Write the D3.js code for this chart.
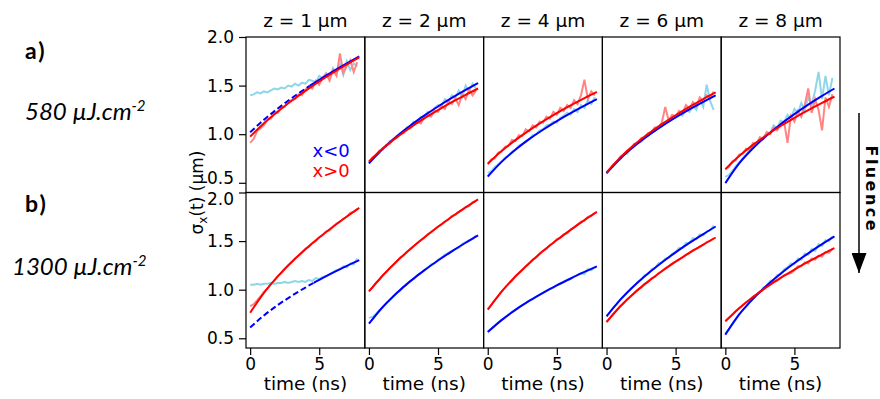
<!DOCTYPE html>
<html>
<head>
<meta charset="utf-8">
<script src="https://cdn.jsdelivr.net/npm/d3@7"></script>
<style>
    body { margin: 0; background: #fff; }
    svg text { font-family: "DejaVu Sans", sans-serif; }
</style>
</head>
<body>
<svg id="chart" width="880" height="399"></svg>
<script>
"use strict";

// time of the measured curves (ns)
const tData = [0, 0.25, 0.5, 0.75, 1, 1.25, 1.5, 1.75, 2, 2.25, 2.5, 2.75, 3, 3.25, 3.5, 3.75,
               4, 4.25, 4.5, 4.75, 5, 5.25, 5.5, 5.75, 6, 6.25, 6.5, 6.75, 7, 7.25, 7.5, 7.75];
// time of the fitted curves (ns)
const tFit = [0, 1, 2, 3, 4, 5, 6, 7, 7.9];

const zLabels = ["z = 1 µm", "z = 2 µm", "z = 4 µm", "z = 6 µm", "z = 8 µm"];
const yTicks = [0.5, 1.0, 1.5, 2.0];
const xTicks = [0, 5];

// 580 µJ.cm-2 : measured sigma, x<0 and x>0, one list per z
const data580Neg = [
    [1.40, 1.41, 1.43, 1.42, 1.44, 1.43, 1.45, 1.47, 1.46, 1.48, 1.47, 1.50, 1.49, 1.52, 1.50, 1.53, 1.52, 1.56, 1.55, 1.53, 1.60, 1.58, 1.63, 1.57, 1.68, 1.62, 1.72, 1.61, 1.75, 1.66, 1.73, 1.70],
    [0.70, 0.74, 0.78, 0.80, 0.86, 0.87, 0.93, 0.94, 0.98, 1.01, 1.03, 1.07, 1.08, 1.13, 1.12, 1.18, 1.17, 1.23, 1.21, 1.27, 1.30, 1.29, 1.36, 1.33, 1.40, 1.37, 1.45, 1.38, 1.50, 1.44, 1.52, 1.47],
    [0.60, 0.62, 0.66, 0.69, 0.72, 0.76, 0.78, 0.82, 0.84, 0.88, 0.90, 0.93, 0.95, 0.99, 1.00, 1.04, 1.05, 1.09, 1.10, 1.13, 1.12, 1.17, 1.19, 1.22, 1.20, 1.26, 1.23, 1.30, 1.27, 1.35, 1.31, 1.38],
    [0.59, 0.64, 0.67, 0.72, 0.74, 0.79, 0.80, 0.85, 0.87, 0.91, 0.92, 0.97, 0.98, 1.02, 1.03, 1.07, 1.08, 1.11, 1.13, 1.16, 1.17, 1.21, 1.19, 1.26, 1.23, 1.30, 1.25, 1.36, 1.28, 1.51, 1.34, 1.25],
    [0.56, 0.58, 0.62, 0.67, 0.71, 0.75, 0.79, 0.83, 0.87, 0.89, 0.94, 0.96, 1.02, 1.01, 1.09, 1.06, 1.14, 1.12, 1.20, 1.16, 1.26, 1.22, 1.32, 1.25, 1.38, 1.30, 1.45, 1.64, 1.36, 1.60, 1.40, 1.58]
];
const data580Pos = [
    [0.91, 0.95, 1.03, 1.06, 1.09, 1.15, 1.16, 1.21, 1.22, 1.27, 1.28, 1.33, 1.35, 1.36, 1.41, 1.40, 1.46, 1.49, 1.47, 1.55, 1.51, 1.58, 1.62, 1.55, 1.66, 1.60, 1.83, 1.63, 1.70, 1.76, 1.64, 1.74],
    [0.71, 0.76, 0.78, 0.83, 0.84, 0.89, 0.90, 0.95, 0.96, 1.00, 1.01, 1.05, 1.06, 1.10, 1.13, 1.11, 1.17, 1.20, 1.18, 1.24, 1.23, 1.29, 1.26, 1.34, 1.31, 1.37, 1.30, 1.41, 1.36, 1.46, 1.40, 1.45],
    [0.69, 0.74, 0.75, 0.81, 0.82, 0.87, 0.88, 0.94, 0.93, 0.99, 0.98, 1.05, 1.03, 1.09, 1.07, 1.13, 1.12, 1.18, 1.16, 1.23, 1.20, 1.27, 1.24, 1.30, 1.27, 1.35, 1.31, 1.40, 1.56, 1.36, 1.44, 1.40],
    [0.60, 0.64, 0.69, 0.71, 0.77, 0.79, 0.83, 0.85, 0.90, 0.91, 0.96, 0.97, 1.01, 1.02, 1.07, 1.06, 1.12, 1.28, 1.14, 1.20, 1.18, 1.24, 1.22, 1.30, 1.26, 1.33, 1.29, 1.38, 1.34, 1.40, 1.37, 1.44],
    [0.64, 0.66, 0.72, 0.73, 0.79, 0.80, 0.85, 0.84, 0.91, 0.90, 0.97, 0.95, 1.02, 1.00, 1.07, 1.04, 1.10, 1.13, 0.91, 1.19, 1.13, 1.24, 1.18, 1.30, 1.47, 1.22, 1.36, 1.25, 1.04, 1.38, 1.28, 1.41]
];
// 580 µJ.cm-2 : fits
const fit580Neg = [
    [1.02, 1.148, 1.264, 1.370, 1.468, 1.560, 1.647, 1.729, 1.80],
    [0.70, 0.850, 0.977, 1.090, 1.191, 1.285, 1.373, 1.455, 1.525],
    [0.564, 0.715, 0.840, 0.949, 1.046, 1.135, 1.217, 1.294, 1.36],
    [0.60, 0.750, 0.875, 0.984, 1.082, 1.172, 1.255, 1.333, 1.40],
    [0.496, 0.699, 0.855, 0.986, 1.103, 1.207, 1.304, 1.394, 1.47]
];
const fit580Pos = [
    [0.975, 1.112, 1.233, 1.344, 1.446, 1.542, 1.632, 1.717, 1.79],
    [0.72, 0.852, 0.966, 1.069, 1.162, 1.248, 1.329, 1.405, 1.47],
    [0.695, 0.826, 0.939, 1.040, 1.132, 1.217, 1.296, 1.371, 1.435],
    [0.606, 0.761, 0.890, 1.002, 1.103, 1.195, 1.281, 1.362, 1.43],
    [0.64, 0.775, 0.890, 0.992, 1.084, 1.169, 1.248, 1.323, 1.386]
];
// fit of x<0 drawn dashed before this time (extrapolation)
const dash580 = [4.3, null, null, null, null];

// 1300 µJ.cm-2 : measured sigma
const data1300Neg = [
    [1.05, 1.05, 1.06, 1.05, 1.06, 1.06, 1.07, 1.06, 1.07, 1.07, 1.08, 1.07, 1.08, 1.09, 1.08, 1.09, 1.08, 1.10, 1.09, 1.12, 1.11, 1.13, 1.14, 1.16, 1.18, 1.20, 1.21, 1.24, 1.23, 1.27, 1.26, 1.32],
    [0.71, 0.72, 0.75, 0.79, 0.82, 0.86, 0.89, 0.93, 0.97, 0.99, 1.03, 1.06, 1.09, 1.11, 1.15, 1.17, 1.20, 1.22, 1.26, 1.27, 1.31, 1.33, 1.36, 1.38, 1.40, 1.42, 1.43, 1.47, 1.49, 1.51, 1.52, 1.56],
    [0.57, 0.60, 0.63, 0.66, 0.69, 0.71, 0.74, 0.77, 0.79, 0.82, 0.84, 0.86, 0.89, 0.90, 0.93, 0.95, 0.97, 0.99, 1.01, 1.02, 1.05, 1.06, 1.08, 1.10, 1.11, 1.14, 1.15, 1.17, 1.16, 1.21, 1.20, 1.23],
    [0.73, 0.77, 0.82, 0.85, 0.90, 0.93, 0.97, 1.01, 1.04, 1.08, 1.10, 1.15, 1.16, 1.21, 1.22, 1.27, 1.28, 1.32, 1.33, 1.37, 1.39, 1.43, 1.43, 1.48, 1.48, 1.53, 1.52, 1.57, 1.56, 1.60, 1.61, 1.66],
    [0.55, 0.59, 0.64, 0.69, 0.74, 0.79, 0.82, 0.87, 0.90, 0.95, 0.97, 1.02, 1.04, 1.09, 1.10, 1.15, 1.16, 1.21, 1.23, 1.27, 1.26, 1.32, 1.31, 1.37, 1.36, 1.42, 1.40, 1.47, 1.45, 1.51, 1.50, 1.55]
];
const data1300Pos = [
    [0.83, 0.85, 0.89, 0.93, 0.98, 1.01, 1.06, 1.09, 1.14, 1.17, 1.21, 1.25, 1.28, 1.32, 1.35, 1.38, 1.42, 1.44, 1.48, 1.50, 1.54, 1.56, 1.60, 1.61, 1.65, 1.68, 1.70, 1.73, 1.75, 1.79, 1.80, 1.83],
    [0.99, 1.02, 1.07, 1.10, 1.15, 1.18, 1.22, 1.25, 1.29, 1.33, 1.35, 1.39, 1.42, 1.45, 1.48, 1.51, 1.53, 1.57, 1.59, 1.62, 1.65, 1.67, 1.70, 1.72, 1.76, 1.77, 1.80, 1.82, 1.85, 1.86, 1.90, 1.91],
    [0.80, 0.84, 0.89, 0.93, 0.98, 1.02, 1.06, 1.09, 1.14, 1.17, 1.20, 1.24, 1.27, 1.31, 1.33, 1.37, 1.40, 1.42, 1.46, 1.48, 1.52, 1.53, 1.57, 1.58, 1.62, 1.64, 1.67, 1.70, 1.71, 1.75, 1.76, 1.79],
    [0.67, 0.71, 0.75, 0.79, 0.83, 0.86, 0.90, 0.93, 0.96, 1.00, 1.02, 1.06, 1.08, 1.12, 1.13, 1.17, 1.19, 1.22, 1.24, 1.27, 1.29, 1.31, 1.33, 1.36, 1.38, 1.41, 1.42, 1.44, 1.46, 1.49, 1.50, 1.53],
    [0.68, 0.71, 0.74, 0.78, 0.81, 0.84, 0.87, 0.89, 0.93, 0.95, 0.98, 1.00, 1.03, 1.05, 1.08, 1.09, 1.12, 1.15, 1.16, 1.17, 1.20, 1.24, 1.24, 1.28, 1.27, 1.32, 1.31, 1.35, 1.34, 1.39, 1.38, 1.42]
];
// 1300 µJ.cm-2 : fits
const fit1300Neg = [
    [0.61, 0.735, 0.842, 0.936, 1.022, 1.101, 1.175, 1.245, 1.304],
    [0.65, 0.822, 0.964, 1.088, 1.199, 1.300, 1.395, 1.483, 1.558],
    [0.564, 0.687, 0.792, 0.884, 0.967, 1.044, 1.115, 1.183, 1.24],
    [0.725, 0.897, 1.040, 1.166, 1.280, 1.384, 1.481, 1.572, 1.65],
    [0.537, 0.745, 0.906, 1.043, 1.164, 1.274, 1.374, 1.468, 1.548]
];
const fit1300Pos = [
    [0.763, 0.968, 1.137, 1.284, 1.416, 1.537, 1.648, 1.753, 1.842],
    [0.982, 1.146, 1.290, 1.419, 1.537, 1.647, 1.750, 1.847, 1.93],
    [0.794, 0.980, 1.136, 1.273, 1.397, 1.511, 1.616, 1.716, 1.80],
    [0.667, 0.829, 0.965, 1.083, 1.190, 1.288, 1.379, 1.464, 1.537],
    [0.674, 0.809, 0.925, 1.028, 1.121, 1.207, 1.288, 1.363, 1.428]
];
const dash1300 = [4.6, null, null, null, null];

const rowLabels = [["a)", "580 µJ.cm", "-2"], ["b)", "1300 µJ.cm", "-2"]];



// layout
const plotLeft = 246, plotTop = 37, colW = 118.8, rowH = 155.5;
const colors = { neg: "#0000ff", pos: "#ff0000", negData: "#8ed6e8", posData: "#ff8585" };

const rows = [
    { neg: data580Neg, pos: data580Pos, fitNeg: fit580Neg, fitPos: fit580Pos, dash: dash580, tickShift: { 0.5: -5 } },
    { neg: data1300Neg, pos: data1300Pos, fitNeg: fit1300Neg, fitPos: fit1300Pos, dash: dash1300, tickShift: { 2: 7 } }
];

const svg = d3.select("#chart");
const defs = svg.append("defs");

// scales
let scaleX = d3.scaleLinear().domain([-0.3, 8.3]).range([0, colW]);
let scaleY = d3.scaleLinear().domain([0.4, 2.0]).range([rowH, 0]);

let lineData = d3.line()
    .x(d => scaleX(d[0]))
    .y(d => scaleY(d[1]));

let lineFit = d3.line()
    .x(d => scaleX(d[0]))
    .y(d => scaleY(d[1]))
    .curve(d3.curveMonotoneX);

const zip = (t, v) => v.map((e, i) => [t[i], e]);



// panels
rows.forEach((row, r) => {
    zLabels.forEach((z, c) => {
        let g = svg.append("g")
            .attr("class", "panel")
            .attr("transform", `translate(${plotLeft + c * colW}, ${plotTop + r * rowH})`);

        let clipId = `clip-${r}-${c}`;
        defs.append("clipPath").attr("id", clipId)
            .append("rect").attr("width", colW).attr("height", rowH);

        let lines = g.append("g").attr("clip-path", `url(#${clipId})`);

        // measured
        lines.append("path")
            .attr("d", lineData(zip(tData, row.neg[c])))
            .attr("fill", "none").attr("stroke", colors.negData).attr("stroke-width", 2);
        lines.append("path")
            .attr("d", lineData(zip(tData, row.pos[c])))
            .attr("fill", "none").attr("stroke", colors.posData).attr("stroke-width", 2);

        // fit x<0, dashed part where extrapolated
        let fitNeg = lineFit(zip(tFit, row.fitNeg[c]));
        if (row.dash[c] != null) {
            let xd = scaleX(row.dash[c]);
            defs.append("clipPath").attr("id", clipId + "-a")
                .append("rect").attr("width", xd).attr("height", rowH);
            defs.append("clipPath").attr("id", clipId + "-b")
                .append("rect").attr("x", xd).attr("width", colW - xd).attr("height", rowH);
            lines.append("g").attr("clip-path", `url(#${clipId}-a)`)
                .append("path").attr("d", fitNeg)
                .attr("fill", "none").attr("stroke", colors.neg).attr("stroke-width", 2)
                .attr("stroke-dasharray", "6,3");
            lines.append("g").attr("clip-path", `url(#${clipId}-b)`)
                .append("path").attr("d", fitNeg)
                .attr("fill", "none").attr("stroke", colors.neg).attr("stroke-width", 2);
        } else {
            lines.append("path").attr("d", fitNeg)
                .attr("fill", "none").attr("stroke", colors.neg).attr("stroke-width", 2);
        }

        // fit x>0
        lines.append("path")
            .attr("d", lineFit(zip(tFit, row.fitPos[c])))
            .attr("fill", "none").attr("stroke", colors.pos).attr("stroke-width", 2);

        // frame
        g.append("rect")
            .attr("width", colW).attr("height", rowH)
            .attr("fill", "none").attr("stroke", "#000").attr("stroke-width", 1.2);

        // y axis on first column
        if (c == 0) {
            let ya = g.append("g")
                .attr("class", "y_axis")
                .call(d3.axisLeft(scaleY).tickValues(yTicks).tickFormat(d3.format(".1f")).tickSize(7).tickPadding(5));
            ya.select(".domain").remove();
            ya.selectAll("text").attr("font-size", 17).attr("fill", "#000")
                .style("font-family", "DejaVu Sans")
                .attr("transform", d => `translate(0, ${row.tickShift[d] || 0})`);
            ya.selectAll("line").attr("stroke-width", 1.2);
        }

        // x axis on bottom row
        if (r == rows.length - 1) {
            let xa = g.append("g")
                .attr("class", "x_axis")
                .attr("transform", `translate(0, ${rowH})`)
                .call(d3.axisBottom(scaleX).tickValues(xTicks).tickSize(7).tickPadding(3));
            xa.select(".domain").remove();
            xa.selectAll("text").attr("font-size", 17).attr("fill", "#000")
                .style("font-family", "DejaVu Sans");
            xa.selectAll("line").attr("stroke-width", 1.2);

            g.append("text")
                .attr("x", colW / 2).attr("y", rowH + 42)
                .attr("text-anchor", "middle").attr("font-size", 18.5)
                .text("time (ns)");
        }

        // column titles
        if (r == 0) {
            g.append("text")
                .attr("x", colW / 2).attr("y", -10)
                .attr("text-anchor", "middle").attr("font-size", 18.5)
                .text(z);
        }
    });
});



// legend in first panel
[["x<0", colors.neg], ["x>0", colors.pos]].forEach((e, i) => {
    svg.append("text")
        .attr("x", plotLeft + colW - 15).attr("y", 157 + i * 20)
        .attr("text-anchor", "end").attr("font-size", 18)
        .attr("fill", e[1])
        .text(e[0]);
});



// y label
let yLabel = svg.append("text")
    .attr("transform", `translate(203, ${plotTop + rowH}) rotate(-90)`)
    .attr("text-anchor", "middle").attr("font-size", 17);
yLabel.append("tspan").text("σ");
yLabel.append("tspan").attr("font-size", 12).attr("dy", 4).text("x");
yLabel.append("tspan").attr("dy", -4).text("(t) (µm)");



// row labels
const rowLabelY = [[59, 120], [212, 275]];
const rowLabelX = [25, 12];
rowLabels.forEach((l, i) => {
    svg.append("text")
        .attr("x", 25).attr("y", rowLabelY[i][0])
        .attr("font-size", 23).attr("font-weight", "bold")
        .attr("letter-spacing", 2)
        .style("font-family", "Lato")
        .text(l[0]);
    let t = svg.append("text")
        .attr("x", rowLabelX[i]).attr("y", rowLabelY[i][1])
        .attr("font-size", 24).attr("font-style", "italic")
        .style("font-family", "Lato");
    t.append("tspan").text(l[1]);
    t.append("tspan").attr("font-size", 15).attr("dy", -9).text(l[2]);
});



// fluence arrow (marker drawn along +x, turned by orient auto)
defs.append("marker")
    .attr("id", "arrow")
    .attr("viewBox", "0 0 20 15").attr("refX", 20).attr("refY", 7.5)
    .attr("markerWidth", 20).attr("markerHeight", 15)
    .attr("markerUnits", "userSpaceOnUse")
    .attr("orient", "auto")
    .append("path").attr("d", "M0,0 L20,7.5 L0,15 Z").attr("fill", "#000");

svg.append("line")
    .attr("x1", 859).attr("x2", 859)
    .attr("y1", 113).attr("y2", 273)
    .attr("stroke", "#000").attr("stroke-width", 1.5)
    .attr("marker-end", "url(#arrow)");

svg.append("text")
    .attr("transform", "translate(866, 188) rotate(90)")
    .attr("text-anchor", "middle").attr("font-size", 16).attr("font-weight", "bold")
    .attr("textLength", 85).attr("lengthAdjust", "spacing")
    .text("Fluence");
</script>
</body>
</html>
